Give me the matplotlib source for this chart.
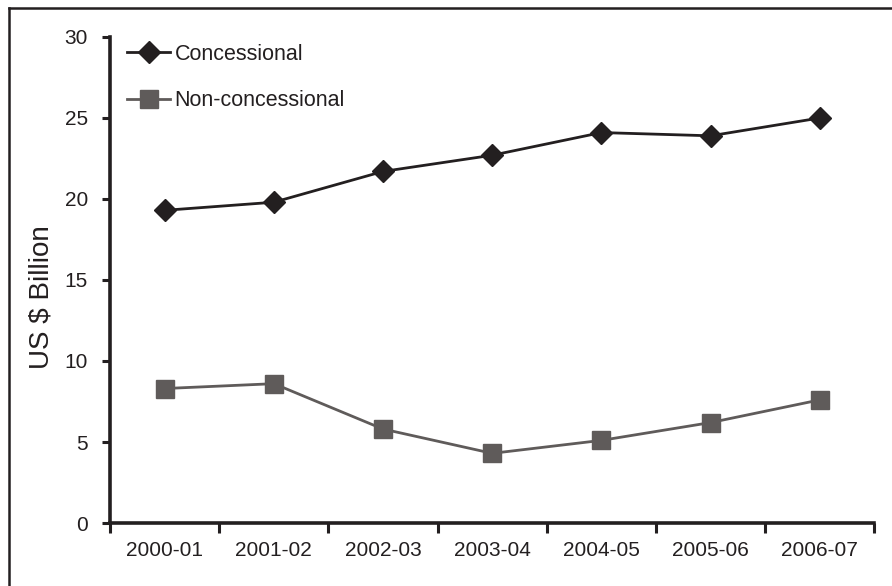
import matplotlib.pyplot as plt
from matplotlib.lines import Line2D

plt.rcParams["font.family"] = ["Liberation Sans", "DejaVu Sans"]

years = ["2000-01", "2001-02", "2002-03", "2003-04", "2004-05", "2005-06", "2006-07"]
concessional = [19.3, 19.8, 21.7, 22.7, 24.1, 23.9, 25.0]
non_concessional = [8.3, 8.6, 5.8, 4.3, 5.1, 6.2, 7.6]

ink = "#231f20"
grey = "#5f5b5a"

fig = plt.figure(figsize=(8.92, 5.86), dpi=100)
ax = fig.add_axes([0.1233, 0.1075, 0.857, 0.8294])

x = list(range(len(years)))
ax.plot(x, concessional, color=ink, lw=2.0, marker="D", ms=11.5,
        mfc=ink, mec=ink, label="Concessional")
ax.plot(x, non_concessional, color=grey, lw=2.0, marker="s", ms=13.5,
        mfc=grey, mec=grey, label="Non-concessional")

ax.set_xlim(-0.5, len(years) - 0.5)
ax.set_ylim(0, 30)
ax.set_yticks(range(0, 31, 5))

# category boundaries get the tick marks, labels sit at the centres
ax.set_xticks([i - 0.5 for i in range(len(years) + 1)])
ax.set_xticklabels([])
ax.set_xticks(x, minor=True)
ax.set_xticklabels(years, minor=True)
ax.tick_params(axis="x", which="minor", length=0, pad=13, labelsize=15, labelcolor=ink)
ax.tick_params(axis="x", which="major", direction="out", length=7, width=2.2, color=ink)
ax.tick_params(axis="y", direction="out", length=6, width=2.2, color=ink,
               pad=10, labelsize=15, labelcolor=ink)

for side in ["top", "right"]:
    ax.spines[side].set_visible(False)
for side in ["left", "bottom"]:
    ax.spines[side].set_linewidth(2.6)
    ax.spines[side].set_color(ink)

ax.set_ylabel("US $ Billion", fontsize=20, color=ink, va="center")
ax.yaxis.set_label_coords(-0.09, 0.464)

leg = ax.legend(loc="upper left", bbox_to_anchor=(0.0, 1.022), frameon=False,
                fontsize=15.5, handlelength=2.0, handletextpad=0.2,
                labelspacing=1.2, borderaxespad=0.4)
for t in leg.get_texts():
    t.set_color(ink)

# frame along the left and top edges of the figure
fig.add_artist(Line2D([0.0105, 0.0105], [0.0, 0.9855], transform=fig.transFigure,
                      color=ink, lw=1.8))
fig.add_artist(Line2D([0.0105, 1.0], [0.9855, 0.9855], transform=fig.transFigure,
                      color=ink, lw=1.8))

fig.savefig("out.png", dpi=100)
